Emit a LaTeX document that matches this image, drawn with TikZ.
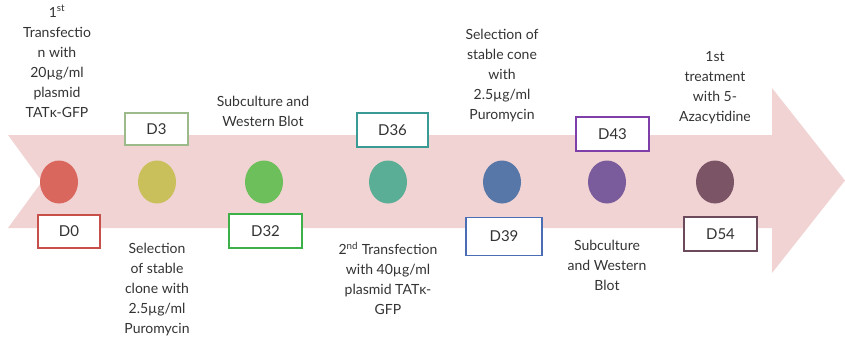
\documentclass[tikz,border=0pt]{standalone}
\usepackage{fontspec}
\setmainfont{Lato}
\usetikzlibrary{shapes.geometric}
\definecolor{band}{HTML}{F1D3D3}
\definecolor{ink}{HTML}{333333}
\definecolor{cA}{HTML}{D9675E}\definecolor{bA}{HTML}{C8504A}
\definecolor{cB}{HTML}{C9C05B}\definecolor{bB}{HTML}{9DBB8A}
\definecolor{cC}{HTML}{6CBF5B}\definecolor{bC}{HTML}{3DB04A}
\definecolor{cD}{HTML}{5AAE96}\definecolor{bD}{HTML}{3A9A94}
\definecolor{cE}{HTML}{5677A8}\definecolor{bE}{HTML}{4A6DB5}
\definecolor{cF}{HTML}{7A5B9B}\definecolor{bF}{HTML}{7E3FA8}
\definecolor{cG}{HTML}{7B5466}\definecolor{bG}{HTML}{6B4A5C}
\tikzset{
  dot/.style={ellipse, minimum width=38pt, minimum height=43pt, inner sep=0pt, fill=#1},
  day/.style={draw=#1, line width=1.6pt, fill=white, inner sep=0pt,
    font=\fontsize{15pt}{17pt}\selectfont, text=ink},
  note/.style={align=center, text=ink, inner sep=0pt, font=\fontsize{14pt}{20pt}\selectfont}
}
\begin{document}
\begin{tikzpicture}[x=1pt,y=-1pt]
\useasboundingbox (0,0) rectangle (845,343);
% timeline arrow
\fill[band] (8,135) -- (772,135) -- (772,88) -- (845,180.5) -- (772,273) -- (772,228)
  -- (8,228) -- (42,181.5) -- cycle;
% milestones
\node[dot=cA] (c0) at (59,182) {};
\node[dot=cB] (c1) at (157,182) {};
\node[dot=cC] (c2) at (264,182) {};
\node[dot=cD] (c3) at (388,182) {};
\node[dot=cE] (c4) at (502,182) {};
\node[dot=cF] (c5) at (607,182) {};
\node[dot=cG] (c6) at (715,182) {};
% day labels
\node[day=bA, minimum width=62pt, minimum height=33pt] (d0) at (69,231.5) {D0};
\node[day=bB, minimum width=63pt, minimum height=32pt] (d3) at (156.5,129) {D3};
\node[day=bC, minimum width=73pt, minimum height=34pt] (d32) at (265.5,231) {D32};
\node[day=bD, minimum width=71pt, minimum height=34pt] (d36) at (392.5,130) {D36};
\node[day=bE, minimum width=76pt, minimum height=38pt] (d39) at (504,236.5) {D39};
\node[day=bF, minimum width=73pt, minimum height=34pt] (d43) at (612.5,134) {D43};
\node[day=bG, minimum width=73pt, minimum height=34pt] (d54) at (720.5,234) {D54};
% step descriptions
\node[note, anchor=north] (n0) at (57,5) {1\textsuperscript{st}\\Transfectio\\n with\\20µg/ml\\plasmid\\TATκ-GFP};
\node[note, anchor=north] (n1) at (157,243) {Selection\\of stable\\clone with\\2.5µg/ml\\Puromycin};
\node[note, anchor=north] (n2) at (263,96) {Subculture and\\Western Blot};
\node[note, anchor=north] (n3) at (388,242) {2\textsuperscript{nd} Transfection\\with 40µg/ml\\plasmid TATκ-\\GFP};
\node[note, anchor=north] (n4) at (502,29) {Selection of\\stable cone\\with\\2.5µg/ml\\Puromycin};
\node[note, anchor=north] (n5) at (607,240) {Subculture\\and Western\\Blot};
\node[note, anchor=north] (n6) at (715,51) {1st\\treatment\\with 5-\\Azacytidine};
\end{tikzpicture}
\end{document}
